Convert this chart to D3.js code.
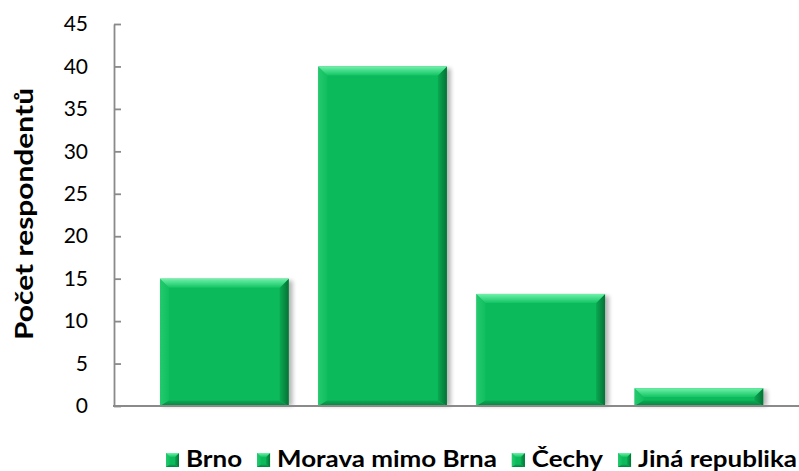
<!DOCTYPE html>
<html>
<head>
<meta charset="utf-8">
<script src="https://cdn.jsdelivr.net/npm/d3@7"></script>
<style>
  body { margin: 0; background: #fff; }
  .chart text { font-family: Lato, "Open Sans", sans-serif; fill: #000; }
  .axes path, .axes line { stroke: #8a8a8a; stroke-width: 1.8; }
</style>
</head>
<body>
<div class="chart"></div>
<script>
// data
var categories = ['Brno', 'Morava mimo Brna', 'Čechy', 'Jiná republika'];
var values = [15, 40, 13.2, 2.1];
var yTicks = [0, 5, 10, 15, 20, 25, 30, 35, 40, 45];
var yTitle = 'Počet respondentů';

var width = 799,
    height = 471,
    axisLeftX = 114,
    axisBottomY = 406,
    axisTopY = 24;

var svg = d3.select('.chart')
  .append('svg')
  .attr('width', width)
  .attr('height', height);

var defs = svg.append('defs');

function grad(id, x1, y1, x2, y2, c1, c2) {
  var g = defs.append('linearGradient').attr('id', id)
    .attr('x1', x1).attr('y1', y1).attr('x2', x2).attr('y2', y2);
  g.append('stop').attr('offset', '0%').attr('stop-color', c1);
  g.append('stop').attr('offset', '100%').attr('stop-color', c2);
}
var base = '#0bba5a';
grad('bvTop', 0, 0, 0, 1, '#6ff2aa', '#14c464');
grad('bvLeft', 0, 0, 1, 0, '#24ca6e', '#10be5f');
grad('bvRight', 0, 0, 1, 0, '#0aa952', '#047335');
grad('bvBottom', 0, 0, 0, 1, '#0aa953', '#068240');

defs.append('filter').attr('id', 'shadow')
  .attr('x', '-10%').attr('y', '-10%').attr('width', '130%').attr('height', '130%')
  .append('feGaussianBlur').attr('stdDeviation', 2);

// bevelled box like excel
function bevel(g, x, y, w, h, b, shadow) {
  var x1 = x + w, y1 = y + h;
  var bt = Math.min(b, h / 2), bb = Math.min(b * 0.6, h / 3);
  if (shadow) {
    g.append('rect')
      .attr('x', x + 2).attr('y', y + 2)
      .attr('width', w + 2).attr('height', h - 2)
      .attr('fill', '#000').attr('opacity', 0.28)
      .attr('filter', 'url(#shadow)');
  }
  g.append('rect').attr('x', x).attr('y', y).attr('width', w).attr('height', h).attr('fill', base);
  var pts = function (a) { return a.map(function (p) { return p.join(','); }).join(' '); };
  g.append('polygon').attr('fill', 'url(#bvLeft)')
    .attr('points', pts([[x, y], [x + b, y + bt], [x + b, y1 - bb], [x, y1]]));
  g.append('polygon').attr('fill', 'url(#bvRight)')
    .attr('points', pts([[x1 - b, y + bt], [x1, y], [x1, y1], [x1 - b, y1 - bb]]));
  g.append('polygon').attr('fill', 'url(#bvTop)')
    .attr('points', pts([[x, y], [x1, y], [x1 - b, y + bt], [x + b, y + bt]]));
  g.append('polygon').attr('fill', 'url(#bvBottom)')
    .attr('points', pts([[x, y1], [x + b, y1 - bb], [x1 - b, y1 - bb], [x1, y1]]));
}

// SCALES
var xScale = d3.scaleBand()
  .domain(categories)
  .range([145.3, 778])
  .paddingInner(0.187)
  .paddingOuter(0.0935);

var yScale = d3.scaleLinear()
  .domain([0, 45])
  .range([axisBottomY, axisTopY]);

// BARS
svg.selectAll('g.bar')
  .data(categories)
  .enter()
  .append('g')
  .attr('class', 'bar')
  .each(function (d, i) {
    var y = yScale(values[i]);
    bevel(d3.select(this), xScale(d), y, xScale.bandwidth(), axisBottomY - y, 9, true);
  });

// AXES
var yAxis = d3.axisLeft(yScale)
  .tickValues(yTicks)
  .tickSize(-7)
  .tickSizeOuter(0)
  .tickPadding(26);

var yG = svg.append('g')
  .attr('class', 'axes')
  .attr('transform', 'translate(' + axisLeftX + ',0)')
  .call(yAxis);
yG.selectAll('text').style('font-size', '21px');

svg.append('line')
  .attr('class', 'xline')
  .attr('x1', axisLeftX - 1).attr('x2', width)
  .attr('y1', axisBottomY).attr('y2', axisBottomY)
  .attr('stroke', '#8a8a8a').attr('stroke-width', 2);

// Y TITLE
svg.append('text')
  .attr('transform', 'translate(33,214) rotate(-90)')
  .attr('text-anchor', 'middle')
  .style('font-size', '24px')
  .style('font-weight', 'bold')
  .attr('textLength', 252)
  .attr('lengthAdjust', 'spacingAndGlyphs')
  .text(yTitle);

// LEGEND
var legend = svg.append('g');
var items = legend.selectAll('g')
  .data(categories)
  .enter()
  .append('g');
var labels = items.append('text')
  .attr('y', 467)
  .style('font-size', '22px')
  .style('font-weight', 'bold')
  .text(function (d) { return d; });

var natural = [];
labels.each(function () { natural.push(this.getComputedTextLength()); });
var mark = 13, gapIn = 7, gapOut = 15, startX = 166, endX = 797;
var room = endX - startX - categories.length * (mark + gapIn) - (categories.length - 1) * gapOut;
var k = room / d3.sum(natural);
var cx = startX;
items.each(function (d, i) {
  var g = d3.select(this);
  var m = g.insert('g', 'text');
  bevel(m, cx, 453, mark, mark + 1, 4, false);
  g.select('text')
    .attr('x', cx + mark + gapIn)
    .attr('textLength', natural[i] * k)
    .attr('lengthAdjust', 'spacingAndGlyphs');
  cx += mark + gapIn + natural[i] * k + gapOut;
});
</script>
</body>
</html>
